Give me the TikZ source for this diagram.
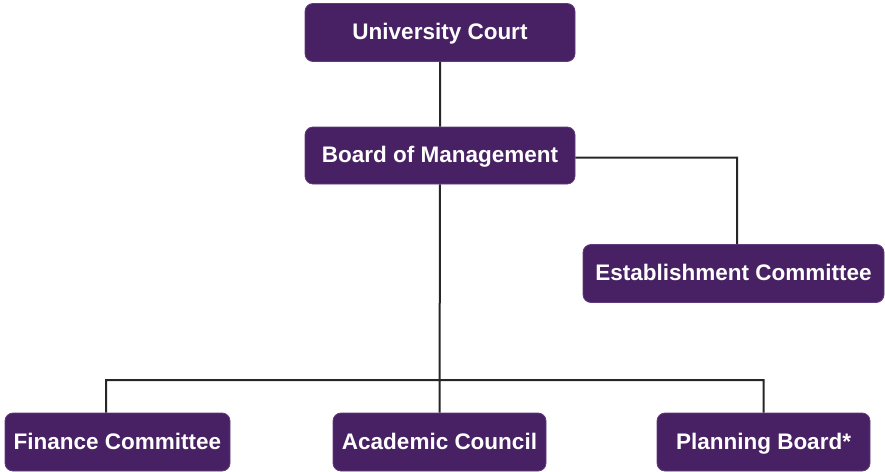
\documentclass[tikz,border=0pt]{standalone}
\usepackage{fontspec}
\setmainfont{Liberation Sans}
\usepackage{tikz}
\usetikzlibrary{positioning}
\definecolor{unipurple}{RGB}{71,33,99}
\definecolor{uniedge}{RGB}{95,60,125}

\begin{document}
\begin{tikzpicture}[x=1pt,y=-1pt]
                \tikzset{Unit/.style={rectangle, rounded corners=8pt, draw=uniedge, line width=0.8pt, fill=unipurple, text=white, font=\fontsize{22.5}{26}\selectfont\bfseries, minimum height=58pt, inner sep=0pt, text height=16.5pt, text depth=2.5pt}}
                \tikzset{Link/.style={line width=2pt, draw=black!85}}

                \useasboundingbox (0,0) rectangle (885,471);

                \node[Unit, minimum width=270pt](Court) at (440,32.5) {University Court};
                \node[Unit, minimum width=270pt, minimum height=57pt](Board) at (440,155.5) {Board of Management};
                \node[Unit, minimum width=301pt](Est) at (733.5,273.5) {Establishment Committee};
                \node[Unit, minimum width=225pt](Fin) at (117.5,442) {Finance Committee};
                \node[Unit, minimum width=213pt](Acad) at (439.5,442) {Academic Council};
                \node[Unit, minimum width=213pt](Plan) at (763.5,442) {Planning Board*};

                \coordinate (Split) at (440,380);

                \draw[Link]
                    (Court) -- (Board)
                    ([yshift=-2pt]Board.east) -| ([xshift=3.5pt]Est.north)
                    (Board) -- (Acad)
                    ([xshift=-11.5pt]Fin.north) |- (Split) -| (Plan.north)
                ;
            \end{tikzpicture}
\end{document}
